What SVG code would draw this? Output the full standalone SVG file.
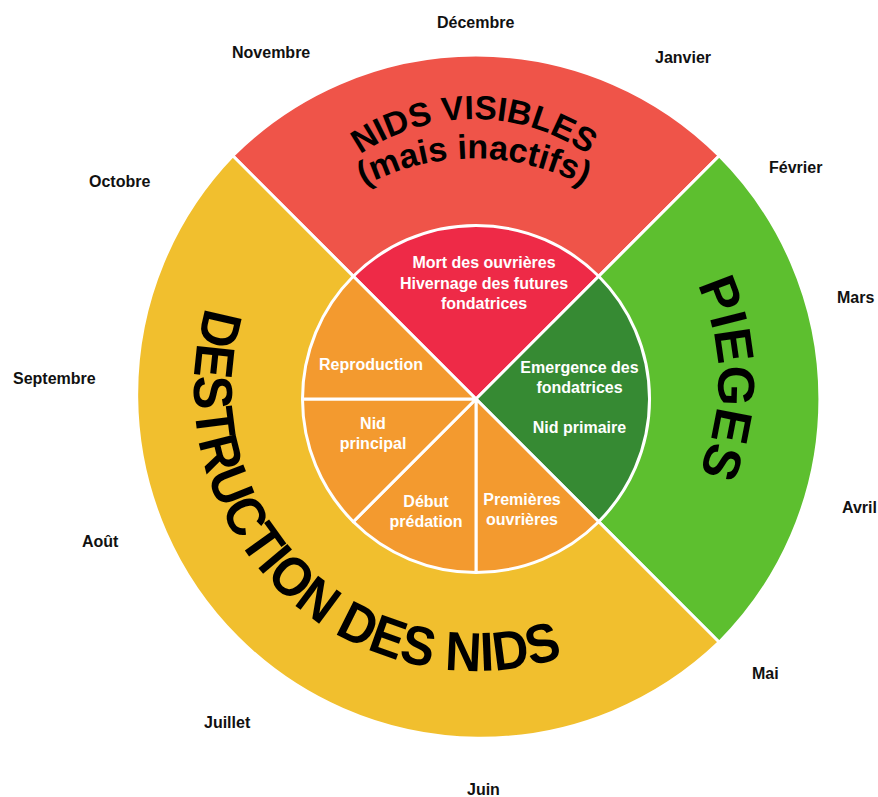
<svg xmlns="http://www.w3.org/2000/svg" xmlns:xlink="http://www.w3.org/1999/xlink" width="878" height="797" viewBox="0 0 878 797">
  <style>
    .sec { stroke: #ffffff; stroke-width: 3; stroke-linejoin: round; }
    .big { font-family: "Liberation Sans", Arial, sans-serif; font-weight: bold; fill: #000000; }
    .month { font-family: "Liberation Sans", Arial, sans-serif; font-weight: bold; font-size: 16px; fill: #111111; }
    .in { font-family: "Liberation Sans", Arial, sans-serif; font-weight: bold; font-size: 16px; fill: #ffffff; text-anchor: middle; }
  </style>
  <defs>
    <path id="arcNids" d="M 286.1 250.6 A 200 200 0 0 1 661.9 250.6"/>
    <path id="arcMais" d="M 255.0 311.9 A 233 233 0 0 1 693.0 311.9"/>
    <path id="arcPieges" d="M 652.7 221.3 A 224.4 224.4 0 0 1 655.1 536.2"/>
    <path id="arcDestr" d="M 206.0 307.5 A 282 282 0 0 0 562.7 657.3"/>
  </defs>
  <rect x="0" y="0" width="878" height="797" fill="#ffffff"/>

  <g id="outer-nids-visibles">
    <path class="sec" fill="#EF5449" d="M476,399 L232.8,155.8 A344,344 0 0 1 719.2,155.8 Z"/>
    <text class="big" font-size="33.5" text-anchor="middle"><textPath xlink:href="#arcNids" href="#arcNids" startOffset="50%">NIDS VISIBLES</textPath></text>
    <text class="big" font-size="34" text-anchor="middle"><textPath xlink:href="#arcMais" href="#arcMais" startOffset="50%">(mais inactifs)</textPath></text>
  </g>
  <g id="outer-pieges">
    <path class="sec" fill="#5DBF2F" d="M476,399 L719.2,155.8 A344,344 0 0 1 719.2,642.2 Z"/>
    <text class="big" font-size="52" text-anchor="middle"><textPath xlink:href="#arcPieges" href="#arcPieges" startOffset="50%">PIEGES</textPath></text>
  </g>
  <g id="outer-destruction">
    <path class="sec" fill="#F1BF2E" d="M476,399 L719.2,642.2 A344,344 0 0 1 232.8,155.8 Z"/>
    <text class="big" font-size="55"><textPath xlink:href="#arcDestr" href="#arcDestr" textLength="614" lengthAdjust="spacingAndGlyphs">DESTRUCTION DES NIDS</textPath></text>
  </g>

  <g id="inner-mort">
    <path class="sec" fill="#EE2A47" d="M476,399 L353.3,276.3 A173.5,173.5 0 0 1 598.7,276.3 Z"/>
    <text class="in" x="484" y="268">Mort des ouvrières</text>
    <text class="in" x="484" y="289">Hivernage des futures</text>
    <text class="in" x="484" y="309">fondatrices</text>
  </g>
  <g id="inner-emergence">
    <path class="sec" fill="#368A33" d="M476,399 L598.7,276.3 A173.5,173.5 0 0 1 598.7,521.7 Z"/>
    <text class="in" x="579.5" y="373">Emergence des</text>
    <text class="in" x="579.5" y="393">fondatrices</text>
    <text class="in" x="579.5" y="433">Nid primaire</text>
  </g>
  <g id="inner-premieres">
    <path class="sec" fill="#F39A2F" d="M476,399 L598.7,521.7 A173.5,173.5 0 0 1 476,572.5 Z"/>
    <text class="in" x="522" y="505">Premières</text>
    <text class="in" x="522" y="525">ouvrières</text>
  </g>
  <g id="inner-debut">
    <path class="sec" fill="#F39A2F" d="M476,399 L476,572.5 A173.5,173.5 0 0 1 353.3,521.7 Z"/>
    <text class="in" x="426" y="507">Début</text>
    <text class="in" x="426" y="527">prédation</text>
  </g>
  <g id="inner-nid-principal">
    <path class="sec" fill="#F39A2F" d="M476,399 L353.3,521.7 A173.5,173.5 0 0 1 302.5,399 Z"/>
    <text class="in" x="373" y="429">Nid</text>
    <text class="in" x="373" y="449">principal</text>
  </g>
  <g id="inner-reproduction">
    <path class="sec" fill="#F39A2F" d="M476,399 L302.5,399 A173.5,173.5 0 0 1 353.3,276.3 Z"/>
    <text class="in" x="371" y="370">Reproduction</text>
  </g>

  <g id="months">
    <text class="month" x="437" y="28">Décembre</text>
    <text class="month" x="655" y="63">Janvier</text>
    <text class="month" x="232" y="58">Novembre</text>
    <text class="month" x="769" y="173">Février</text>
    <text class="month" x="89" y="187">Octobre</text>
    <text class="month" x="837" y="303">Mars</text>
    <text class="month" x="13" y="384">Septembre</text>
    <text class="month" x="842" y="513">Avril</text>
    <text class="month" x="82" y="547">Août</text>
    <text class="month" x="752" y="679">Mai</text>
    <text class="month" x="204" y="728">Juillet</text>
    <text class="month" x="467" y="795">Juin</text>
  </g>
  <g id="connectors"></g>
</svg>
